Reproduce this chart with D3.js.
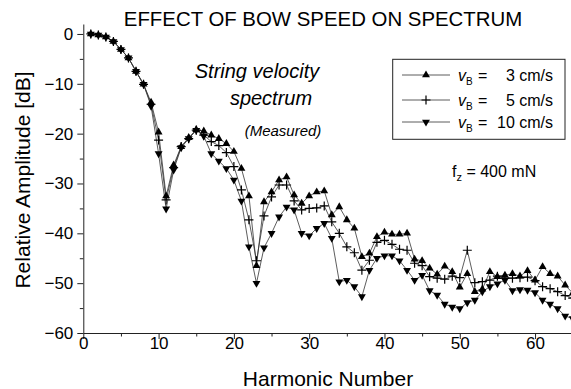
<!DOCTYPE html>
<html>
<head>
<meta charset="utf-8">
<script src="https://cdn.jsdelivr.net/npm/d3@7"></script>
<style>
  body { margin: 0; background: #fff; }
  text { font-family: "Liberation Sans", Arial, sans-serif; fill: #000; }
</style>
</head>
<body>
<div id="chart"></div>
<script>
// harmonic numbers
var harmonics = [1,2,3,4,5,6,7,8,9,10,11,12,13,14,15,16,17,18,19,20,
  21,22,23,24,25,26,27,28,29,30,31,32,33,34,35,36,37,38,39,40,
  41,42,43,44,45,46,47,48,49,50,51,52,53,54,55,56,57,58,59,60,
  61,62,63,64,65];

// relative amplitude [dB]
var vb3 = [0,-0.2,-0.6,-1.5,-3.1,-4.8,-7.5,-10.1,-13.7,-19.7,
  -32.5,-26.3,-22.6,-20.8,-19.2,-19.5,-20.3,-21,-22,-23.6,
  -27,-32.5,-46.5,-33.7,-31.7,-29.3,-28.7,-32.3,-34,-32.5,
  -31.7,-31.5,-36.3,-34.7,-37.3,-39,-44.7,-44,-40.7,-39.8,
  -40.2,-40.2,-40,-45.2,-45.5,-47,-48.2,-46.6,-47.7,-50.8,
  -48.1,-51.7,-51.2,-47.7,-48.7,-48.4,-48.1,-48.6,-47.5,-49.4,
  -46.7,-48.1,-48.6,-50.4,-52];
var vb5 = [0,-0.2,-0.6,-1.5,-3.1,-4.8,-7.5,-10.1,-14.1,-21.3,
  -33.3,-26.8,-22.6,-21,-19.3,-20.3,-21.6,-22.4,-23.8,-26.6,
  -31.3,-37.3,-45.5,-36.5,-32.7,-30.3,-30.3,-33.5,-35.3,-35,
  -34.9,-34.5,-37.7,-40,-42.7,-43.9,-47.4,-45.4,-41.8,-41.4,
  -42.2,-43.2,-43.4,-46,-46.5,-48.7,-49,-49.2,-48.6,-48.9,
  -43.4,-49.9,-49.7,-49.4,-48.6,-49,-49,-48.9,-48.8,-49.5,
  -50.7,-51.1,-51.7,-52.5,-53];
var vb10 = [0,-0.2,-0.6,-1.5,-3.1,-4.8,-7.5,-10.1,-14.5,-24,
  -35.1,-27.3,-22.8,-21,-19.3,-20.5,-24,-25.5,-27,-29.3,
  -33.5,-42.7,-50,-42.9,-40,-36.7,-34.7,-35.3,-40,-40.5,
  -39,-38,-41,-49.7,-49.4,-50.7,-52.7,-47.4,-45,-44.5,
  -44.5,-45.5,-47.4,-49.4,-48.4,-51.5,-52.4,-54.2,-54.8,-55.1,
  -53.9,-53.4,-51.7,-50.7,-50.1,-49.4,-51.5,-51.3,-51.4,-51.9,
  -53.4,-54.2,-55.1,-56.6,-57.1];

var xTicks = [0,10,20,30,40,50,60];
var xMinor = [5,15,25,35,45,55,65];
var yTicks = [0,-10,-20,-30,-40,-50,-60];
var yMinor = [-5,-15,-25,-35,-45,-55];

var width = 571, height = 389;

var svg = d3.select("#chart").append("svg")
  .attr("width", width)
  .attr("height", height);

var x = d3.scaleLinear().domain([0, 65]).range([83.3, 572.7]);
var y = d3.scaleLinear().domain([-60, 2]).range([333, 24]);

// axes
svg.append("g").attr("transform", "translate(" + x(0) + ",0)")
  .call(d3.axisLeft(y).tickValues(yTicks).tickSize(6).tickSizeOuter(0).tickPadding(4)
    .tickFormat(d3.format("d")));
svg.append("g").attr("transform", "translate(" + x(0) + ",0)")
  .call(d3.axisLeft(y).tickValues(yMinor).tickSize(3.5).tickSizeOuter(0).tickFormat(""))
  .select(".domain").remove();

svg.append("g").attr("transform", "translate(0," + y(-60) + ")")
  .call(d3.axisBottom(x).tickValues(xTicks).tickSize(6).tickSizeOuter(0).tickPadding(-2));
svg.append("g").attr("transform", "translate(0," + y(-60) + ")")
  .call(d3.axisBottom(x).tickValues(xMinor).tickSize(3.5).tickSizeOuter(0).tickFormat(""))
  .select(".domain").remove();

svg.selectAll(".domain, .tick line").attr("stroke", "#222");
svg.selectAll(".tick text").style("font-size", "17px").attr("fill", "#000")
  .style("font-family", '"Liberation Sans", Arial, sans-serif');

// axis titles
svg.append("text")
  .attr("x", 328).attr("y", 386)
  .attr("text-anchor", "middle")
  .style("font-size", "21px")
  .text("Harmonic Number");

svg.append("text")
  .attr("transform", "translate(30,180) rotate(-90)")
  .attr("text-anchor", "middle")
  .style("font-size", "21px")
  .text("Relative Amplitude [dB]");

svg.append("text")
  .attr("x", 323).attr("y", 26)
  .attr("text-anchor", "middle")
  .style("font-size", "20.4px")
  .text("EFFECT OF BOW SPEED ON SPECTRUM");

// series
var series = [
  {name: "3", values: vb3, mark: "up"},
  {name: "5", values: vb5, mark: "plus"},
  {name: "10", values: vb10, mark: "down"}
];

var line = d3.line()
  .x(function(d) { return x(d[0]); })
  .y(function(d) { return y(d[1]); });

var tri = d3.symbol().type(d3.symbolTriangle).size(27)();
var plus = "M-4.5,0H4.5M0,-4.5V4.5";

function drawMark(g, mark) {
  if (mark == "plus") {
    g.append("path").attr("d", plus).attr("stroke", "#000").attr("stroke-width", 1.2).attr("fill", "none");
  } else {
    g.append("path").attr("d", tri).attr("fill", "#000")
      .attr("transform", mark == "down" ? "rotate(180)" : null);
  }
}

series.forEach(function(s) {
  var pts = harmonics.map(function(h, i) { return [h, s.values[i]]; });
  svg.append("path")
    .datum(pts)
    .attr("d", line)
    .attr("fill", "none")
    .attr("stroke", "#333")
    .attr("stroke-width", 0.8);
});

series.forEach(function(s) {
  harmonics.forEach(function(h, i) {
    var g = svg.append("g")
      .attr("transform", "translate(" + x(h) + "," + y(s.values[i]) + ")");
    drawMark(g, s.mark);
  });
});

// annotations
svg.append("text").attr("x", 257).attr("y", 78).attr("text-anchor", "middle")
  .style("font-size", "20px").style("font-style", "italic").text("String velocity");
svg.append("text").attr("x", 271).attr("y", 105).attr("text-anchor", "middle")
  .style("font-size", "20px").style("font-style", "italic").text("spectrum");
svg.append("text").attr("x", 283).attr("y", 136).attr("text-anchor", "middle")
  .style("font-size", "15px").style("font-style", "italic").text("(Measured)");

var fz = svg.append("text").attr("x", 452).attr("y", 177).style("font-size", "16px");
fz.append("tspan").text("f");
fz.append("tspan").attr("dy", 4).style("font-size", "11px").text("z");
fz.append("tspan").attr("dy", -4).text(" = 400 mN");

// legend
var leg = svg.append("g");
leg.append("rect")
  .attr("x", 392.7).attr("y", 59.3).attr("width", 172.3).attr("height", 80)
  .attr("fill", "#fff").attr("stroke", "#222").attr("stroke-width", 1);

var rowY = [75, 100, 122];
series.forEach(function(s, i) {
  var ry = rowY[i];
  leg.append("line").attr("x1", 402).attr("x2", 450).attr("y1", ry).attr("y2", ry)
    .attr("stroke", "#333").attr("stroke-width", 0.8);
  var g = leg.append("g").attr("transform", "translate(426," + ry + ")");
  drawMark(g, s.mark);
  var t = leg.append("text").attr("x", 458).attr("y", ry + 6).style("font-size", "16px");
  t.append("tspan").style("font-style", "italic").text("v");
  t.append("tspan").attr("dy", 4).style("font-size", "10px").text("B");
  t.append("tspan").attr("dy", -4).attr("x", 478).text("=");
  leg.append("text").attr("x", 553).attr("y", ry + 6).attr("text-anchor", "end")
    .style("font-size", "16px").text(s.name + " cm/s");
});
</script>
</body>
</html>
